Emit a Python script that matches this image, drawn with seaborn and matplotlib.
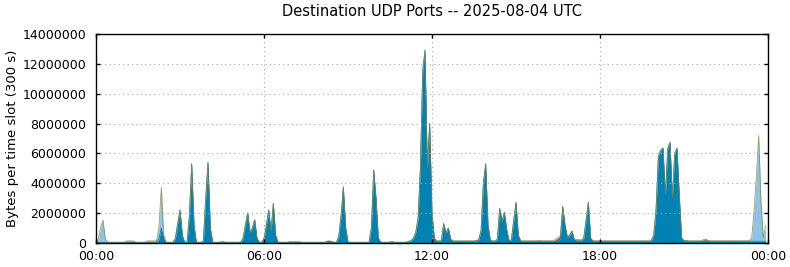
import matplotlib
matplotlib.use("Agg")
import matplotlib.pyplot as plt
import seaborn as sns
import numpy as np
import pandas as pd

# ---- data (millions of bytes per 300 s slot, 288 slots = 00:00 .. 23:55) ----
blue = [
    0.03, 0.03, 0.03, 0.03, 0.03, 0.03, 0.03, 0.03, 0.03, 0.03, 0.03, 0.03, 0.03, 0.03, 0.03, 0.03, 0.03, 0.03, 0.03, 0.03, 0.03, 0.03, 0.03, 0.03,
    0.03, 0.03, 0.05, 0.3, 1.0, 0.3, 0.03, 0.03, 0.03, 0.03, 0.3, 1.3, 2.2, 0.5, 0.03, 0.05, 1.8, 5.3, 1.2, 0.03, 0.03, 0.03, 0.1, 3.0,
    5.4, 1.0, 0.03, 0.03, 0.03, 0.03, 0.08, 0.05, 0.03, 0.03, 0.03, 0.03, 0.03, 0.03, 0.05, 0.3, 1.2, 2.0, 0.7, 1.0, 1.55, 0.3, 0.03, 0.03,
    0.3, 1.2, 2.2, 0.8, 2.65, 0.5, 0.03, 0.03, 0.03, 0.03, 0.03, 0.03, 0.03, 0.03, 0.03, 0.03, 0.03, 0.03, 0.03, 0.03, 0.03, 0.03, 0.03, 0.03,
    0.03, 0.03, 0.03, 0.1, 0.12, 0.08, 0.03, 0.03, 0.4, 1.8, 3.75, 1.0, 0.05, 0.03, 0.03, 0.03, 0.03, 0.03, 0.03, 0.03, 0.03, 0.03, 1.0, 4.9,
    3.0, 0.3, 0.05, 0.03, 0.03, 0.03, 0.05, 0.08, 0.03, 0.03, 0.03, 0.03, 0.03, 0.05, 0.08, 0.15, 0.3, 0.7, 1.6, 5.0, 11.5, 12.9, 5.0, 8.0,
    2.0, 0.3, 0.12, 0.12, 0.15, 1.3, 0.65, 1.0, 0.25, 0.12, 0.12, 0.12, 0.12, 0.12, 0.12, 0.12, 0.12, 0.12, 0.12, 0.15, 0.2, 0.8, 4.0, 5.3,
    1.2, 0.15, 0.12, 0.12, 0.25, 2.3, 1.45, 2.05, 0.9, 0.15, 0.2, 1.5, 2.72, 0.5, 0.12, 0.12, 0.12, 0.12, 0.12, 0.12, 0.12, 0.12, 0.12, 0.12,
    0.12, 0.12, 0.12, 0.12, 0.12, 0.12, 0.12, 0.3, 2.45, 1.2, 0.4, 0.5, 0.8, 0.2, 0.12, 0.12, 0.12, 0.3, 1.5, 2.72, 0.3, 0.12, 0.12, 0.12,
    0.12, 0.12, 0.12, 0.12, 0.12, 0.12, 0.12, 0.12, 0.12, 0.12, 0.12, 0.12, 0.12, 0.12, 0.12, 0.12, 0.12, 0.12, 0.12, 0.12, 0.12, 0.12, 0.15, 0.5,
    2.2, 5.8, 6.2, 6.35, 3.2, 6.3, 6.74, 3.0, 6.0, 6.34, 3.1, 0.3, 0.15, 0.15, 0.12, 0.12, 0.12, 0.12, 0.12, 0.12, 0.12, 0.12, 0.12, 0.12,
    0.12, 0.12, 0.12, 0.12, 0.12, 0.12, 0.12, 0.12, 0.12, 0.12, 0.12, 0.12, 0.12, 0.12, 0.12, 0.12, 0.12, 0.12, 0.12, 0.12, 0.12, 0.12, 0.12, 0.12,
]
light_blue = [
    0, 0.2, 1.0, 1.47, 0.2, 0, 0, 0, 0, 0, 0, 0, 0, 0, 0, 0, 0, 0, 0, 0, 0, 0, 0, 0,
    0, 0, 0, 0.8, 2.7, 0.2, 0, 0, 0, 0, 0, 0, 0, 0, 0, 0, 0, 0, 0, 0, 0, 0, 0, 0,
    0, 0, 0, 0, 0, 0, 0, 0, 0, 0, 0, 0, 0, 0, 0, 0, 0, 0, 0, 0, 0, 0, 0, 0,
    0, 0, 0, 0, 0, 0, 0, 0, 0, 0, 0, 0, 0, 0, 0, 0, 0, 0, 0, 0, 0, 0, 0, 0,
    0, 0, 0, 0, 0, 0, 0, 0, 0, 0, 0, 0, 0, 0, 0, 0, 0, 0, 0, 0, 0, 0, 0, 0,
    0, 0, 0, 0, 0, 0, 0, 0, 0, 0, 0, 0, 0, 0, 0, 0, 0, 0, 0, 0, 0, 0, 0, 0,
    0, 0, 0, 0, 0, 0, 0, 0, 0, 0, 0, 0, 0, 0, 0, 0, 0, 0, 0, 0, 0, 0, 0, 0,
    0, 0, 0, 0, 0, 0, 0, 0, 0, 0, 0, 0, 0, 0, 0, 0, 0, 0, 0, 0, 0, 0, 0, 0,
    0, 0, 0, 0, 0, 0, 0, 0, 0, 0, 0, 0, 0, 0, 0, 0, 0, 0, 0, 0, 0, 0, 0, 0,
    0, 0, 0, 0, 0, 0, 0, 0, 0, 0, 0, 0, 0, 0, 0, 0, 0, 0, 0, 0, 0, 0, 0, 0,
    0, 0, 0, 0, 0, 0, 0, 0, 0, 0, 0, 0, 0, 0, 0, 0, 0, 0, 0, 0, 0, 0, 0, 0,
    0, 0, 0, 0, 0, 0, 0, 0, 0, 0, 0, 0, 0, 0, 0, 0, 0, 0.2, 2.0, 4.3, 7.05, 2.6, 0.2, 1.0,
]
red = [
    0, 0, 0, 0, 0, 0, 0, 0, 0, 0, 0, 0, 0, 0, 0, 0, 0, 0, 0, 0, 0, 0, 0, 0,
    0, 0, 0, 0, 0, 0, 0, 0, 0, 0, 0, 0, 0, 0, 0, 0, 0, 0, 0, 0, 0, 0, 0, 0,
    0, 0, 0, 0, 0, 0, 0, 0, 0, 0, 0, 0, 0, 0, 0, 0, 0, 0, 0, 0, 0, 0, 0, 0,
    0, 0, 0, 0, 0, 0, 0, 0, 0, 0, 0, 0, 0, 0, 0, 0, 0, 0, 0, 0, 0, 0, 0, 0,
    0, 0, 0, 0, 0, 0, 0, 0, 0, 0, 0, 0, 0, 0, 0, 0, 0, 0, 0, 0, 0, 0, 0, 0,
    0, 0, 0, 0, 0, 0, 0, 0, 0, 0, 0, 0, 0, 0, 0, 0, 0, 0, 0, 0, 0, 0, 0, 0,
    0, 0, 0, 0, 0, 0, 0, 0, 0, 0, 0, 0, 0, 0, 0, 0, 0, 0, 0, 0, 0, 0, 0, 0,
    0, 0, 0, 0, 0, 0, 0, 0, 0, 0, 0, 0, 0, 0, 0, 0, 0, 0, 0, 0, 0, 0, 0, 0,
    0, 0, 0, 0, 0, 0.1, 0.2, 0.15, 0, 0, 0, 0, 0, 0, 0.08, 0.1, 0.05, 0, 0, 0, 0, 0, 0, 0,
    0, 0, 0, 0, 0, 0, 0, 0, 0, 0, 0, 0, 0, 0, 0, 0, 0, 0, 0, 0, 0, 0, 0, 0,
    0, 0, 0, 0, 0, 0, 0, 0, 0, 0, 0, 0, 0, 0, 0, 0, 0, 0, 0, 0, 0.05, 0.12, 0.05, 0,
    0, 0, 0, 0, 0, 0, 0, 0, 0, 0, 0, 0, 0, 0, 0, 0, 0, 0, 0, 0, 0, 0, 0, 0,
]
orange = [
    0, 0, 0, 0, 0, 0, 0, 0, 0, 0, 0, 0, 0, 0.08, 0.08, 0.08, 0.08, 0, 0, 0, 0, 0, 0.08, 0.08,
    0.08, 0.08, 0.08, 0, 0, 0, 0, 0, 0, 0, 0, 0, 0, 0, 0, 0, 0, 0, 0, 0, 0, 0, 0, 0,
    0, 0, 0, 0, 0, 0, 0, 0, 0, 0, 0, 0, 0, 0, 0, 0, 0, 0, 0, 0, 0, 0, 0, 0,
    0, 0, 0, 0, 0, 0, 0, 0, 0, 0, 0, 0.05, 0.05, 0.05, 0.05, 0.05, 0, 0, 0, 0, 0, 0, 0, 0,
    0, 0, 0, 0, 0, 0, 0, 0, 0, 0, 0, 0, 0, 0, 0, 0, 0, 0, 0, 0, 0, 0, 0, 0,
    0, 0, 0, 0, 0, 0, 0, 0, 0, 0, 0, 0, 0, 0, 0, 0, 0, 0, 0, 0, 0, 0, 0, 0,
    0, 0, 0, 0, 0, 0, 0, 0, 0, 0, 0, 0, 0, 0, 0, 0, 0, 0, 0, 0, 0, 0, 0, 0,
    0, 0, 0, 0, 0, 0, 0, 0, 0, 0, 0, 0, 0, 0, 0, 0, 0, 0, 0, 0, 0, 0, 0.04, 0,
    0, 0, 0, 0, 0, 0, 0, 0, 0, 0, 0, 0, 0, 0, 0, 0, 0, 0, 0, 0, 0, 0, 0, 0,
    0, 0, 0, 0, 0, 0, 0, 0, 0, 0, 0, 0, 0, 0, 0, 0, 0, 0, 0, 0, 0, 0, 0, 0,
    0, 0, 0, 0, 0, 0, 0, 0, 0, 0, 0, 0, 0, 0, 0, 0, 0, 0, 0, 0, 0, 0, 0, 0,
    0, 0, 0, 0, 0, 0, 0, 0, 0, 0, 0, 0, 0, 0, 0, 0, 0, 0, 0, 0, 0, 0, 0, 0,
]
green = [
    0.03, 0.03, 0.03, 0.03, 0.03, 0.03, 0.03, 0.03, 0.03, 0.03, 0.03, 0.03, 0.03, 0.03, 0.03, 0.03, 0.03, 0.03, 0.03, 0.03, 0.03, 0.03, 0.03, 0.03,
    0.03, 0.03, 0.03, 0.03, 0.03, 0.03, 0.03, 0.03, 0.03, 0.03, 0.03, 0.03, 0.03, 0.03, 0.03, 0.03, 0.03, 0.03, 0.03, 0.03, 0.03, 0.03, 0.03, 0.03,
    0.03, 0.03, 0.03, 0.03, 0.03, 0.03, 0.03, 0.03, 0.03, 0.03, 0.03, 0.03, 0.03, 0.03, 0.03, 0.03, 0.03, 0.03, 0.03, 0.03, 0.03, 0.03, 0.03, 0.03,
    0.03, 0.03, 0.03, 0.03, 0.03, 0.03, 0.03, 0.03, 0.03, 0.03, 0.03, 0.03, 0.03, 0.03, 0.03, 0.03, 0.03, 0.03, 0.03, 0.03, 0.03, 0.03, 0.03, 0.03,
    0.03, 0.03, 0.03, 0.03, 0.03, 0.03, 0.03, 0.03, 0.03, 0.03, 0.03, 0.03, 0.03, 0.03, 0.03, 0.03, 0.03, 0.03, 0.03, 0.03, 0.03, 0.03, 0.03, 0.03,
    0.03, 0.03, 0.03, 0.03, 0.03, 0.03, 0.03, 0.03, 0.03, 0.03, 0.03, 0.03, 0.03, 0.03, 0.03, 0.03, 0.03, 0.03, 0.03, 0.03, 0.03, 0.03, 0.03, 0.03,
    0.03, 0.03, 0.03, 0.03, 0.03, 0.03, 0.03, 0.03, 0.03, 0.03, 0.03, 0.03, 0.03, 0.03, 0.03, 0.03, 0.03, 0.03, 0.03, 0.03, 0.03, 0.03, 0.03, 0.03,
    0.03, 0.03, 0.03, 0.03, 0.03, 0.03, 0.03, 0.03, 0.03, 0.03, 0.03, 0.03, 0.03, 0.03, 0.03, 0.03, 0.03, 0.03, 0.03, 0.03, 0.03, 0.03, 0.03, 0.03,
    0.03, 0.03, 0.03, 0.03, 0.03, 0.03, 0.03, 0.03, 0.03, 0.03, 0.03, 0.03, 0.03, 0.03, 0.03, 0.03, 0.03, 0.03, 0.03, 0.03, 0.03, 0.03, 0.03, 0.03,
    0.03, 0.03, 0.03, 0.03, 0.03, 0.03, 0.03, 0.03, 0.03, 0.03, 0.03, 0.03, 0.03, 0.03, 0.03, 0.03, 0.03, 0.03, 0.03, 0.03, 0.03, 0.03, 0.03, 0.03,
    0.03, 0.03, 0.03, 0.03, 0.03, 0.03, 0.03, 0.03, 0.03, 0.03, 0.03, 0.03, 0.03, 0.03, 0.03, 0.03, 0.03, 0.03, 0.03, 0.03, 0.03, 0.03, 0.03, 0.03,
    0.03, 0.03, 0.03, 0.03, 0.03, 0.03, 0.03, 0.03, 0.03, 0.03, 0.03, 0.03, 0.03, 0.03, 0.03, 0.03, 0.03, 0.03, 0.03, 0.03, 0.03, 0.03, 0.03, 0.03,
]

x_tick_slots = [0, 72, 144, 216, 288]
x_tick_labels = ["00:00", "06:00", "12:00", "18:00", "00:00"]
y_ticks = [0, 2000000, 4000000, 6000000, 8000000, 10000000, 12000000, 14000000]

title = "Destination UDP Ports -- 2025-08-04 UTC"
ylabel = "Bytes per time slot (300 s)"

series_colors = ["#0281b3", "#8fc4e4", "#d0502a", "#e69f00", "#3c9a3c"]

# ---- build frame ----
MB = 1e6
slots = np.arange(len(blue))
df = pd.DataFrame({
    "slot": slots,
    "blue": np.array(blue) * MB,
    "light": np.array(light_blue) * MB,
    "red": np.array(red) * MB,
    "orange": np.array(orange) * MB,
    "green": np.array(green) * MB,
})
df["total"] = df[["blue", "light", "red", "orange", "green"]].sum(axis=1)

sns.set_style("ticks")
plt.rcParams["font.family"] = ["DejaVu Sans"]
plt.rcParams["text.color"] = "black"
plt.rcParams["axes.labelcolor"] = "black"

fig = plt.figure(figsize=(7.9, 2.67), dpi=100)
ax = fig.add_axes([96 / 790, 24 / 267, 672 / 790, 209 / 267])

ax.stackplot(df["slot"], df["blue"], df["light"], df["red"], df["orange"], df["green"],
             colors=series_colors, linewidth=0)
# edges
sns.lineplot(x=df["slot"], y=df["blue"], ax=ax, color="#0a6f98", linewidth=0.5)
sns.lineplot(x=df["slot"], y=df["total"], ax=ax, color="#7f8a45", linewidth=0.55, alpha=0.85)

ax.set_xlim(0, 288)
ax.set_ylim(0, 14000000)
ax.set_xticks(x_tick_slots)
ax.set_xticklabels(x_tick_labels)
ax.set_yticks(y_ticks)
ax.set_yticklabels([str(v) for v in y_ticks])

ax.grid(True, color="#aaaaaa", linestyle=(0, (1, 3)), linewidth=0.8)
ax.set_axisbelow(False)
for s in ax.spines.values():
    s.set_visible(True)
    s.set_color("black")
    s.set_linewidth(1.0)
    s.set_zorder(5)

ax.tick_params(axis="both", which="major", direction="in", length=3.2, width=1.0,
               top=True, right=True, labelsize=9, colors="black")
ax.tick_params(axis="x", pad=5)
ax.tick_params(axis="y", pad=7)

ax.set_xlabel("")
ax.set_ylabel(ylabel, fontsize=9.5, labelpad=2.5, color="black")
ax.set_title(title, fontsize=10.5, pad=13, color="black")

fig.savefig("out.png", dpi=100)
